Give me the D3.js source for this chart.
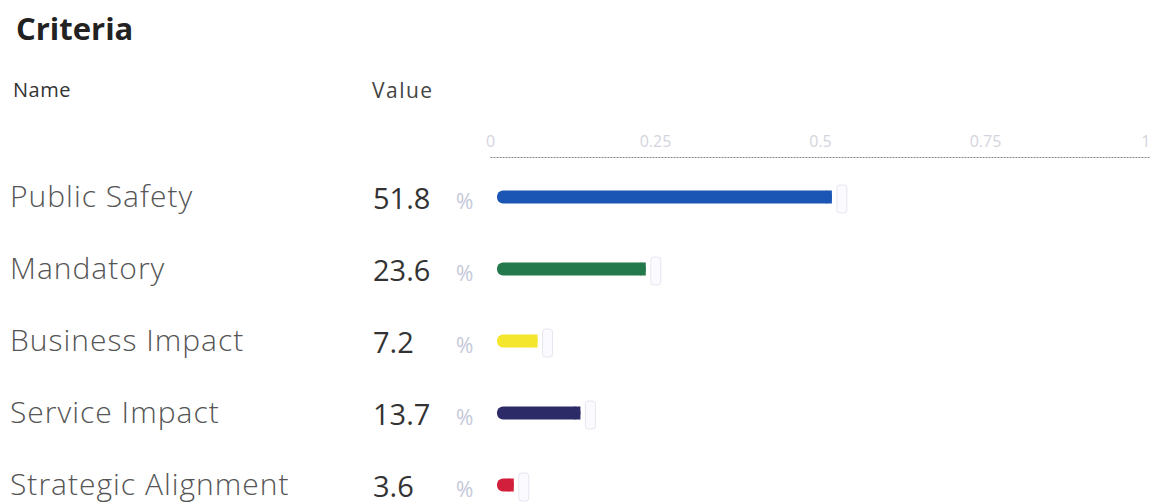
<!DOCTYPE html>
<meta charset="utf-8">
<script src="https://cdn.jsdelivr.net/npm/d3@7"></script>
<style>
    body { margin: 0; background: #fff; }
    .txt { font-family: "Open Sans", Arial, sans-serif; }
</style>
<body>
<script>
var names = ["Public Safety", "Mandatory", "Business Impact", "Service Impact", "Strategic Alignment"];
var values = [51.8, 23.6, 7.2, 13.7, 3.6];
var colors = ["#1c56b5", "#23794b", "#f4e62c", "#2d2a68", "#d21f3c"];
var ticks = [0, 0.25, 0.5, 0.75, 1];

var width = 1153, height = 504;
var svg = d3.select("body").append("svg")
    .attr("width", width)
    .attr("height", height);

var x = d3.scaleLinear().domain([0, 1]).range([490, 1150]);
var y = d3.scaleBand().domain(names).range([161, 521]);

// title + headers
svg.append("text").attr("class", "txt")
    .attr("x", 16).attr("y", 40)
    .style("font-size", "31px").style("font-weight", "bold").style("fill", "#222")
    .text("Criteria");
svg.append("text").attr("class", "txt")
    .attr("x", 13).attr("y", 97)
    .style("font-size", "20px").style("fill", "#333").style("letter-spacing", "0.5px")
    .text("Name");
svg.append("text").attr("class", "txt")
    .attr("x", 372).attr("y", 98)
    .style("font-size", "21px").style("fill", "#444").style("letter-spacing", "1.5px")
    .text("Value");

// top axis
var axis = svg.append("g")
    .attr("transform", "translate(0,157)")
    .call(d3.axisTop(x).tickValues(ticks).tickSize(0).tickPadding(10)
        .tickFormat(function(d) { return String(d); }));
axis.select(".domain").attr("stroke", "#888").attr("stroke-dasharray", "2,1");
axis.selectAll("text").attr("class", "txt")
    .style("font-size", "16px").style("fill", "#d4d4dc")
    .attr("text-anchor", function(d) { return d === 1 ? "end" : "middle"; });

var rowC = function(n) { return y(n) + y.bandwidth() / 2; };

svg.selectAll(".name")
    .data(names).enter().append("text")
    .attr("class", "txt")
    .attr("x", 10)
    .attr("y", function(d) { return rowC(d) + 10; })
    .style("font-size", "30px").style("font-weight", "300").style("fill", "#555")
    .style("letter-spacing", "1px")
    .text(function(d) { return d; });

svg.selectAll(".val")
    .data(values).enter().append("text")
    .attr("class", "txt")
    .attr("x", 373)
    .attr("y", function(d, i) { return rowC(names[i]) + 12; })
    .style("font-size", "29px").style("fill", "#333")
    .text(function(d) { return d; });

svg.selectAll(".pct")
    .data(values).enter().append("text")
    .attr("class", "txt")
    .attr("x", 456)
    .attr("y", function(d, i) { return rowC(names[i]) + 12; })
    .style("font-size", "21px").style("fill", "#c5c8da")
    .text("%");

// bars: rounded left end, square right end
svg.selectAll(".bar")
    .data(values).enter().append("rect")
    .attr("x", x(0) + 7)
    .attr("y", function(d, i) { return rowC(names[i]) - 6.5; })
    .attr("width", function(d) { return x(d / 100) - x(0) - 7; })
    .attr("height", 13)
    .attr("rx", 6)
    .style("fill", function(d, i) { return colors[i]; });
svg.selectAll(".barend")
    .data(values).enter().append("rect")
    .attr("x", function(d) { return x(d / 100) - 6; })
    .attr("y", function(d, i) { return rowC(names[i]) - 6.5; })
    .attr("width", 6)
    .attr("height", 13)
    .style("fill", function(d, i) { return colors[i]; });

// faint thumbs
svg.selectAll(".thumb")
    .data(values).enter().append("rect")
    .attr("x", function(d) { return x(d / 100) + 5; })
    .attr("y", function(d, i) { return rowC(names[i]) - 12; })
    .attr("width", 10)
    .attr("height", 28)
    .attr("rx", 3)
    .style("fill", "#fbfbff")
    .style("stroke", "#e6e6f0");
</script>
</body>
